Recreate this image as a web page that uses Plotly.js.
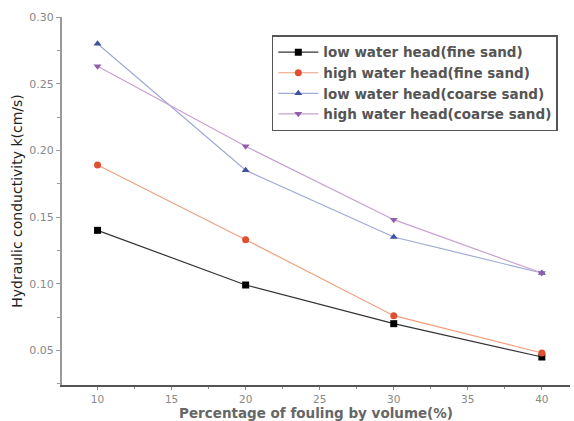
<!DOCTYPE html>
<html>
<head>
<meta charset="utf-8">
<script src="https://cdn.plot.ly/plotly-3.0.1.min.js"></script>
<style>html,body{margin:0;padding:0;background:#fff;}#chart{width:574px;height:421px;}</style>
</head>
<body>
<div id="chart"></div>
<script>
var fouling = [10, 20, 30, 40];
var lowFine = [0.140, 0.099, 0.070, 0.045];
var highFine = [0.189, 0.133, 0.076, 0.048];
var lowCoarse = [0.280, 0.185, 0.135, 0.108];
var highCoarse = [0.263, 0.203, 0.148, 0.108];
var seriesNames = ["low water head(fine sand)", "high water head(fine sand)", "low water head(coarse sand)", "high water head(coarse sand)"];
var xTicks = [10, 15, 20, 25, 30, 35, 40];
var yTicks = [0.05, 0.10, 0.15, 0.20, 0.25, 0.30];

function tr(y, name, lineColor, markerColor, symbol) {
  return {x: fouling, y: y, name: name, type: 'scatter', mode: 'lines+markers',
    line: {color: lineColor, width: 1.2},
    marker: {color: markerColor, symbol: symbol, size: 7}};
}
var data = [
  tr(lowFine, seriesNames[0], '#333333', '#000000', 'square'),
  tr(highFine, seriesNames[1], '#f0a080', '#e05030', 'circle'),
  tr(lowCoarse, seriesNames[2], '#a0a8d8', '#4050a0', 'triangle-up'),
  tr(highCoarse, seriesNames[3], '#c8a0d0', '#9060a8', 'triangle-down')
];
var layout = {
  width: 574, height: 421,
  margin: {l: 62, r: 4, t: 17, b: 36},
  paper_bgcolor: '#fff', plot_bgcolor: '#fff',
  font: {family: 'DejaVu Sans, sans-serif', color: '#555'},
  showlegend: true,
  legend: {x: 0.413, y: 0.95, xanchor: 'left', yanchor: 'top',
    bgcolor: '#fff', bordercolor: '#555', borderwidth: 1.5,
    font: {size: 13.5, color: '#555', weight: 'bold'}, itemwidth: 40},
  xaxis: {range: [7.6, 41.9], tickvals: xTicks, ticktext: xTicks.map(String),
    showgrid: false, zeroline: false, showline: true, linecolor: '#555', linewidth: 2,
    ticks: 'outside', ticklen: 3, tickcolor: '#888', tickfont: {size: 10.5, color: '#888'},
    minor: {tickvals: [12.5, 17.5, 22.5, 27.5, 32.5, 37.5], ticks: 'outside', ticklen: 2, tickcolor: '#888'},
    title: {text: 'Percentage of fouling by volume(%)', font: {size: 13.5, color: '#666', weight: 'bold'}, standoff: 4}},
  yaxis: {range: [0.024, 0.30], tickvals: yTicks, tickformat: '.2f',
    showgrid: false, zeroline: false, showline: true, linecolor: '#999', linewidth: 2,
    ticks: 'outside', ticklen: 4, tickcolor: '#999', tickfont: {size: 11, color: '#888'},
    minor: {tickvals: [0.025, 0.075, 0.125, 0.175, 0.225, 0.275], ticks: 'outside', ticklen: 3, tickcolor: '#999'},
    title: {text: 'Hydraulic conductivity k(cm/s)', font: {size: 14, color: '#222'}, standoff: 3}}
};
Plotly.newPlot('chart', data, layout, {displayModeBar: false, staticPlot: true});
</script>
</body>
</html>
